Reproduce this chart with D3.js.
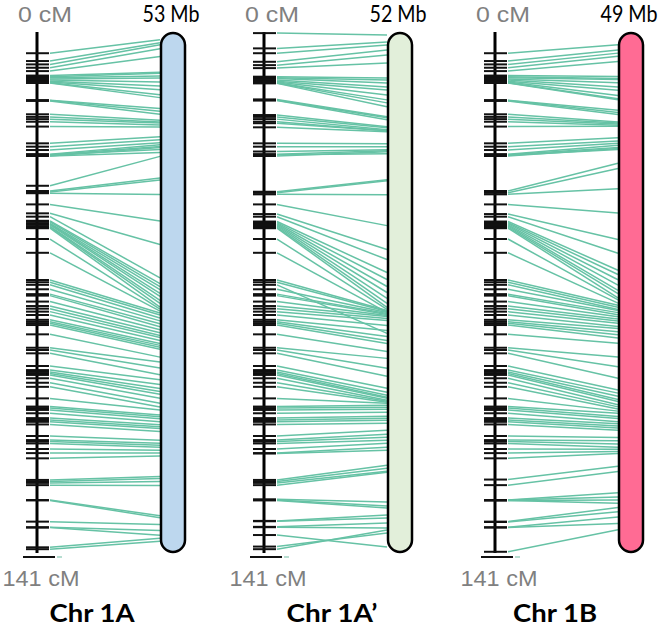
<!DOCTYPE html>
<html><head><meta charset="utf-8">
<script src="https://cdn.jsdelivr.net/npm/d3@7"></script>
<style>body{margin:0;background:#fff}svg{display:block}</style>
</head><body>
<script>
// ---------------- data ----------------
const chromosomes = ["Chr 1A", "Chr 1A\u2019", "Chr 1B"];
const physLengthMb = [53, 52, 49];
const mapLengthCM = 141;
const mapStartLabel = "0 cM";
const mapEndLabel = "141 cM";

// [genetic position cM, physical position Mb]
const linksA = [
 [5.7,0.7],[7.8,1.0],[8.7,1.2],[9.6,1.6],[10.5,2.4],
 [11.7,4.0],[12.0,4.1],[12.3,4.4],[12.6,4.6],[12.9,5.0],[13.2,5.4],[13.4,5.8],[13.6,6.3],[13.7,6.6],
 [18.3,7.7],[18.4,8.0],[18.5,8.3],
 [22.1,8.9],[22.8,9.1],[23.4,9.2],[24.1,9.4],[25.4,9.6],
 [29.9,10.6],[30.8,10.9],[31.7,11.2],[32.8,11.4],[33.0,11.6],[33.3,11.7],[33.0,11.9],[33.3,12.2],
 [41.3,12.6],[42.7,14.8],[43.0,15.0],[43.3,16.5],[46.3,19.2],[48.7,21.6],
 [49.6,25.0],[50.7,25.6],[51.0,25.9],[51.4,26.2],[51.6,26.6],[51.8,26.9],[52.2,27.3],[52.4,27.6],[52.7,28.0],
 [55.6,28.2],[59.3,28.4],
 [66.6,28.6],[67.2,28.8],[67.9,29.1],[69.1,29.4],[70.4,29.7],[70.8,30.0],[72.4,30.3],[73.6,30.6],[74.3,30.9],
 [75.1,31.1],[76.0,31.4],[77.3,31.7],[77.8,31.9],[78.2,32.1],[78.7,32.3],[81.2,33.1],
 [84.8,33.6],[85.4,34.2],[86.3,34.9],
 [89.7,35.4],[90.8,35.9],[91.3,36.3],[91.7,36.6],[92.1,36.9],[93.0,37.3],[94.2,37.8],[95.3,38.2],
 [98.4,38.5],[100.6,39.0],[101.0,39.2],[101.5,39.4],[102.4,39.7],[103.7,40.0],[104.2,40.2],[104.7,40.4],[105.4,40.7],
 [108.5,41.6],[109.6,41.9],[110.0,42.1],[110.5,42.3],[112.0,42.6],[113.1,42.9],[114.5,43.2],
 [120.3,45.3],[120.7,45.5],[121.1,45.8],[121.7,46.2],
 [125.7,49.3],[125.8,49.5],
 [131.5,50.2],[133.0,50.8],[133.1,51.3],
 [138.4,51.6],[138.9,51.9]
];
const linksA2 = [
 [0.3,0.2],[4.4,0.9],[5.7,1.2],[8.0,1.7],[8.9,2.2],[9.7,3.0],
 [12.0,4.5],[12.3,4.7],[12.5,5.0],[12.9,5.4],[13.2,5.7],[13.4,6.2],[13.6,6.7],[13.7,7.0],[13.8,7.4],
 [18.1,8.4],[18.3,8.5],[18.4,8.7],
 [22.3,9.4],[22.8,9.5],[23.4,9.7],[24.1,9.8],[24.5,9.8],[25.6,9.9],
 [29.9,11.1],[30.8,11.4],
 [32.1,11.7],[32.8,11.8],[33.0,12.1],[33.3,11.9],
 [42.9,14.7],[43.2,14.8],[43.6,16.2],
 [46.3,19.3],[48.9,21.7],[49.6,22.7],
 [50.9,24.0],[51.2,24.7],[51.5,25.4],[51.8,26.0],[52.1,26.6],[52.4,27.1],[52.7,27.5],
 [55.6,27.7],[59.3,28.0],
 [66.6,27.8],[67.2,27.9],[67.9,30.1],[69.1,28.0],[70.4,28.1],[70.8,28.2],[72.4,28.3],[73.6,28.4],[74.3,28.6],
 [75.1,28.8],[76.0,29.3],[77.3,29.8],[77.8,30.4],[78.2,30.8],[78.7,31.1],[81.2,31.9],
 [84.8,32.6],[85.4,33.6],[86.3,34.4],
 [89.7,35.6],[90.8,36.0],[91.3,36.3],[91.7,36.5],[92.1,36.6],[93.0,36.8],[94.2,36.9],[95.3,37.0],
 [98.4,37.1],[100.6,37.3],[101.0,37.5],[101.5,37.7],[102.4,38.0],[103.7,38.4],[104.2,38.6],[104.7,38.8],[105.4,39.1],
 [108.5,39.8],[109.6,40.2],[110.0,40.5],[110.5,40.8],[112.0,41.1],[113.1,41.5],[113.2,41.8],
 [120.3,43.3],[120.7,43.6],[121.1,43.9],[121.7,44.0],
 [125.5,47.0],[125.7,47.4],[125.8,47.6],
 [131.3,48.3],[131.4,48.6],
 [132.9,49.1],[133.0,49.6],
 [135.1,51.5],
 [138.2,50.1],[138.9,49.8]
];
const linksB = [
 [5.7,1.1],[7.8,1.6],[8.7,1.9],[9.6,2.2],[10.5,2.7],
 [11.7,4.1],[12.0,4.3],[12.3,4.4],[12.6,4.7],[12.9,5.1],[13.2,5.4],[13.4,5.9],[13.6,6.2],[13.7,6.3],
 [18.3,7.3],[18.4,7.5],[18.5,7.7],
 [22.1,8.4],[22.8,8.5],[23.4,8.6],[24.1,8.7],[25.4,8.8],
 [29.9,9.9],[30.8,10.2],[31.7,10.4],[32.8,10.6],[33.0,10.8],[33.3,10.9],[33.1,11.0],
 [42.7,12.3],[43.2,12.8],[43.6,14.7],
 [46.3,17.0],[48.9,19.5],[49.6,20.8],
 [50.9,22.4],[51.2,22.8],[51.5,23.3],[51.8,23.8],[52.1,24.3],[52.4,24.6],[52.7,25.0],
 [55.6,25.2],[59.3,25.5],
 [66.6,25.7],[67.2,25.9],[67.9,26.1],[69.1,26.2],[70.4,26.4],[70.8,26.6],[72.4,26.8],[73.6,27.0],[74.3,27.2],
 [75.1,27.4],[76.0,27.7],[77.3,27.9],[77.8,28.2],[78.2,28.5],[78.7,28.8],[81.2,29.3],
 [84.8,30.6],[85.4,31.5],[86.3,32.6],
 [89.7,33.7],[90.8,34.0],[91.3,34.3],[91.7,34.6],[92.1,34.8],[93.0,35.1],[94.2,35.3],[95.3,35.5],
 [98.4,35.7],[100.6,35.9],[101.0,36.2],[101.5,36.4],[102.4,36.7],[103.7,36.9],[104.2,37.1],[104.7,37.3],[105.4,37.5],
 [108.5,38.2],[109.6,38.5],[110.0,38.8],[110.5,39.1],[112.0,39.3],[113.1,39.5],[114.5,39.7],
 [120.2,40.9],[121.7,41.4],
 [125.7,43.4],[125.7,43.8],[125.8,44.1],[125.8,44.4],
 [131.5,44.8],[131.6,45.2],
 [133.0,45.7],[133.1,46.3],
 [139.6,46.9]
];
const panelLinks = [linksA, linksA2, linksB];

// ---------------- styles / layout ----------------
const barColors = ["#bdd7ee", "#e2efda", "#ff6b94"];
const linkColor = "#66c2a5";
const axisX = [37, 264, 495];
const titleX = [92, 332, 555];
const titleW = [85, 91, 84];
const W = 667, H = 626;
const yTop = 32, yEnd = 557;
const barTop = 33, barBottom = 552;

const svg = d3.select("body").append("svg").attr("width", W).attr("height", H);

const yCM = d3.scaleLinear().domain([0, mapLengthCM]).range([yTop, yEnd]);

chromosomes.forEach((name, i) => {
  const ax = axisX[i];
  const g = svg.append("g");
  const yMb = d3.scaleLinear().domain([0, physLengthMb[i]]).range([barTop, barBottom]);
  const links = panelLinks[i];

  // links
  g.append("g").selectAll("line").data(links).join("line")
    .attr("x1", ax + 13).attr("y1", d => yCM(d[0]))
    .attr("x2", ax + 123).attr("y2", d => yMb(d[1]))
    .attr("stroke", linkColor).attr("stroke-width", 1.5);

  // genetic map axis
  g.append("line").attr("x1", ax).attr("x2", ax)
    .attr("y1", yCM(0)).attr("y2", yCM(mapLengthCM) - 4)
    .attr("stroke", "#000").attr("stroke-width", 3);
  g.append("g").selectAll("line").data(links).join("line")
    .attr("x1", ax - 11).attr("x2", ax + 12)
    .attr("y1", d => yCM(d[0])).attr("y2", d => yCM(d[0]))
    .attr("stroke", "#111").attr("stroke-width", 2);
  // end of map
  g.append("line").attr("x1", ax - 14).attr("x2", ax + 18)
    .attr("y1", yCM(mapLengthCM)).attr("y2", yCM(mapLengthCM))
    .attr("stroke", "#111").attr("stroke-width", 2);
  g.append("line").attr("x1", ax + 20).attr("x2", ax + 25)
    .attr("y1", yCM(mapLengthCM)).attr("y2", yCM(mapLengthCM))
    .attr("stroke", "#9fd3c2").attr("stroke-width", 1.5);

  // physical chromosome
  g.append("rect").attr("x", ax + 124).attr("y", yMb(0))
    .attr("width", 24).attr("height", yMb(physLengthMb[i]) - yMb(0))
    .attr("rx", 12).attr("ry", 12)
    .attr("fill", barColors[i]).attr("stroke", "#000").attr("stroke-width", 2.5);

  // labels
  g.append("text").attr("x", ax + 8).attr("y", 22)
    .attr("text-anchor", "middle").attr("fill", "#808080")
    .style("font", "22px 'Liberation Sans', Arial, sans-serif")
    .attr("textLength", 54).attr("lengthAdjust", "spacingAndGlyphs")
    .text(mapStartLabel);
  g.append("text").attr("x", ax + 4).attr("y", 586)
    .attr("text-anchor", "middle").attr("fill", "#808080")
    .style("font", "22px 'Liberation Sans', Arial, sans-serif")
    .attr("textLength", 77).attr("lengthAdjust", "spacingAndGlyphs")
    .text(mapEndLabel);
  g.append("text").attr("x", ax + 134).attr("y", 22)
    .attr("text-anchor", "middle").attr("fill", "#000")
    .style("font", "23px Lato, 'Open Sans', sans-serif")
    .attr("textLength", 57).attr("lengthAdjust", "spacingAndGlyphs")
    .text(physLengthMb[i] + " Mb");
  g.append("text").attr("x", titleX[i]).attr("y", 622)
    .attr("text-anchor", "middle").attr("fill", "#000")
    .style("font", "bold 25px Lato, 'Open Sans', sans-serif")
    .attr("textLength", titleW[i]).attr("lengthAdjust", "spacingAndGlyphs")
    .text(name);
});
</script>
</body></html>
